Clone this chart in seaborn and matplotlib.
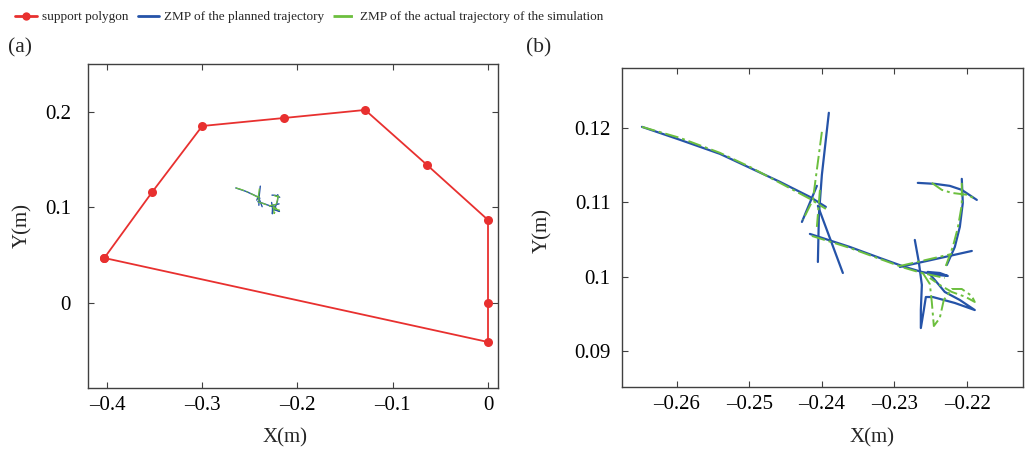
import pandas as pd
import matplotlib.pyplot as plt
from matplotlib.lines import Line2D
import seaborn as sns

# support polygon vertices (closed by repeating first point)
poly_x = [-0.4028, -0.3525, -0.3000, -0.2140, -0.1290, -0.0640, 0.0, 0.0, 0.0, -0.4028]
poly_y = [0.0468, 0.1159, 0.1850, 0.1934, 0.2018, 0.1442, 0.0866, 0.0, -0.0412, 0.0468]

# ZMP of the planned trajectory, stroke by stroke
plan_x = [
    [-0.26478, -0.25955, -0.25404, -0.24991, -0.24578, -0.24165, -0.23945],
    [-0.23904, -0.24000, -0.24041, -0.24055],
    [-0.24275, -0.24069],
    [-0.24055, -0.23711],
    [-0.24165, -0.23615, -0.23202, -0.22857, -0.22623, -0.22403, -0.22266, -0.22376, -0.22541],
    [-0.22926, -0.21935],
    [-0.22720, -0.22665, -0.22623, -0.22637, -0.22637, -0.22596, -0.22568, -0.22472,
     -0.22169, -0.21894, -0.22100, -0.22307, -0.22444, -0.22541],
    [-0.22679, -0.22444, -0.22238, -0.22073, -0.21866],
    [-0.22073, -0.22059, -0.22100, -0.22169, -0.22279],
]
plan_y = [
    [0.12013, 0.11839, 0.11650, 0.11462, 0.11274, 0.11072, 0.10937],
    [0.12202, 0.11368, 0.10830, 0.10197],
    [0.10735, 0.11220],
    [0.10951, 0.10049],
    [0.10574, 0.10399, 0.10251, 0.10130, 0.10063, 0.10022, 0.10009, 0.10049, 0.10063],
    [0.10130, 0.10345],
    [0.10493, 0.10197, 0.09888, 0.09551, 0.09309, 0.09551, 0.09726, 0.09726,
     0.09646, 0.09551, 0.09686, 0.09794, 0.09955, 0.10063],
    [0.11260, 0.11247, 0.11220, 0.11166, 0.11031],
    [0.11314, 0.10991, 0.10668, 0.10399, 0.10157],
]

# ZMP of the actual (simulated) trajectory
act_x = [
    [-0.26478, -0.25955, -0.25404, -0.24991, -0.24578, -0.24165, -0.23945],
    [-0.24000, -0.24124, -0.24261],
    [-0.24027, -0.24069],
    [-0.24138, -0.23615, -0.23202, -0.22857, -0.22623, -0.22307],
    [-0.22926, -0.22210],
    [-0.22486, -0.22348, -0.22210, -0.21990, -0.21894],
    [-0.22073, -0.22073, -0.22128, -0.22197, -0.22293],
    [-0.22610, -0.22513, -0.22486, -0.22458, -0.22376, -0.22321, -0.22210, -0.22073,
     -0.21935, -0.21894, -0.22018, -0.22210, -0.22376, -0.22513],
]
act_y = [
    [0.12013, 0.11865, 0.11664, 0.11475, 0.11260, 0.11045, 0.10910],
    [0.11946, 0.11031, 0.10762],
    [0.11166, 0.10668],
    [0.10547, 0.10386, 0.10238, 0.10116, 0.10049, 0.09982],
    [0.10143, 0.10305],
    [0.11260, 0.11166, 0.11125, 0.11099, 0.11045],
    [0.11260, 0.10964, 0.10655, 0.10399, 0.10143],
    [0.10049, 0.09901, 0.09659, 0.09336, 0.09444, 0.09686, 0.09834, 0.09834,
     0.09740, 0.09659, 0.09726, 0.09794, 0.09888, 0.09982],
]

a_xticks = [-0.4, -0.3, -0.2, -0.1, 0]
a_xlabels = ['\u20130.4', '\u20130.3', '\u20130.2', '\u20130.1', '0']
a_yticks = [0, 0.1, 0.2]
a_ylabels = ['0', '0.1', '0.2']
b_xticks = [-0.26, -0.25, -0.24, -0.23, -0.22]
b_xlabels = ['\u20130.26', '\u20130.25', '\u20130.24', '\u20130.23', '\u20130.22']
b_yticks = [0.09, 0.1, 0.11, 0.12]
b_ylabels = ['0.09', '0.1', '0.11', '0.12']

RED = '#e8302f'
BLUE = '#2553a8'
GREEN = '#6cbf3e'
GREEN_DASH = (0, (7, 2, 1.5, 2))


def to_frame(xs, ys):
    rows = []
    for i, (sx, sy) in enumerate(zip(xs, ys)):
        for x, y in zip(sx, sy):
            rows.append((x, y, i))
    return pd.DataFrame(rows, columns=['x', 'y', 'seg'])


plan = to_frame(plan_x, plan_y)
act = to_frame(act_x, act_y)
poly = pd.DataFrame({'x': poly_x, 'y': poly_y})

sns.set_style('ticks')
plt.rcParams['font.family'] = ['Liberation Serif', 'DejaVu Serif']
plt.rcParams['axes.edgecolor'] = '#404040'
plt.rcParams['xtick.color'] = '#404040'
plt.rcParams['ytick.color'] = '#404040'
plt.rcParams['xtick.labelcolor'] = 'black'
plt.rcParams['ytick.labelcolor'] = 'black'

fig = plt.figure(figsize=(10.3, 4.55), dpi=100)
ax1 = fig.add_axes([0.085, 0.148, 0.3985, 0.7113])
ax2 = fig.add_axes([0.6036, 0.150, 0.3896, 0.6999])

# (a) full view
sns.lineplot(data=poly, x='x', y='y', sort=False, estimator=None, color=RED,
             lw=1.3, marker='o', markersize=6.5, markeredgewidth=0, ax=ax1)
sns.lineplot(data=plan, x='x', y='y', units='seg', estimator=None, sort=False,
             color=BLUE, lw=1.0, ax=ax1)
sns.lineplot(data=act, x='x', y='y', units='seg', estimator=None, sort=False,
             color=GREEN, lw=0.9, linestyle=GREEN_DASH, ax=ax1)
ax1.set_xlim(-0.4204, 0.0105)
ax1.set_ylim(-0.089, 0.2499)
ax1.set_xticks(a_xticks, a_xlabels)
ax1.set_yticks(a_yticks, a_ylabels)
ax1.tick_params(axis='y', pad=12)
ax1.tick_params(axis='x', pad=6)

# (b) zoomed view
sns.lineplot(data=plan, x='x', y='y', units='seg', estimator=None, sort=False,
             color=BLUE, lw=1.6, ax=ax2)
sns.lineplot(data=act, x='x', y='y', units='seg', estimator=None, sort=False,
             color=GREEN, lw=1.4, linestyle=GREEN_DASH, ax=ax2)
ax2.set_xlim(-0.26757, -0.2123)
ax2.set_ylim(0.0852, 0.1280)
ax2.set_xticks(b_xticks, b_xlabels)
ax2.set_yticks(b_yticks, b_ylabels)
ax2.tick_params(axis='y', pad=8)
ax2.tick_params(axis='x', pad=6)

for ax in (ax1, ax2):
    ax.tick_params(direction='in', top=True, right=True, length=4, width=0.8,
                   labelsize=15)
    for s in ax.spines.values():
        s.set_linewidth(1.0)
    ax.set_xlabel('X(m)', fontsize=15)
    ax.set_ylabel('Y(m)', fontsize=15)

ax1.xaxis.set_label_coords(0.48, -0.125)
ax1.yaxis.set_label_coords(-0.135, 0.5)
ax2.xaxis.set_label_coords(0.625, -0.13)
ax2.yaxis.set_label_coords(-0.174, 0.49)

fig.text(0.008, 0.894, '(a)', fontsize=15.5, va='center', ha='left')
fig.text(0.511, 0.894, '(b)', fontsize=15.5, va='center', ha='left')

handles = [
    Line2D([], [], color=RED, lw=2, marker='o', markersize=6, markeredgewidth=0),
    Line2D([], [], color=BLUE, lw=2),
    Line2D([], [], color=GREEN, lw=2, linestyle=GREEN_DASH),
]
labels = ['support polygon', 'ZMP of the planned trajectory',
          'ZMP of the actual trajectory of the simulation']
fig.legend(handles, labels, loc='center left', bbox_to_anchor=(0.015, 0.962),
           ncol=3, frameon=False, fontsize=9.5, handlelength=1.6,
           handletextpad=0.4, columnspacing=0.7, borderaxespad=0, borderpad=0)

fig.savefig('out.png', dpi=100)
